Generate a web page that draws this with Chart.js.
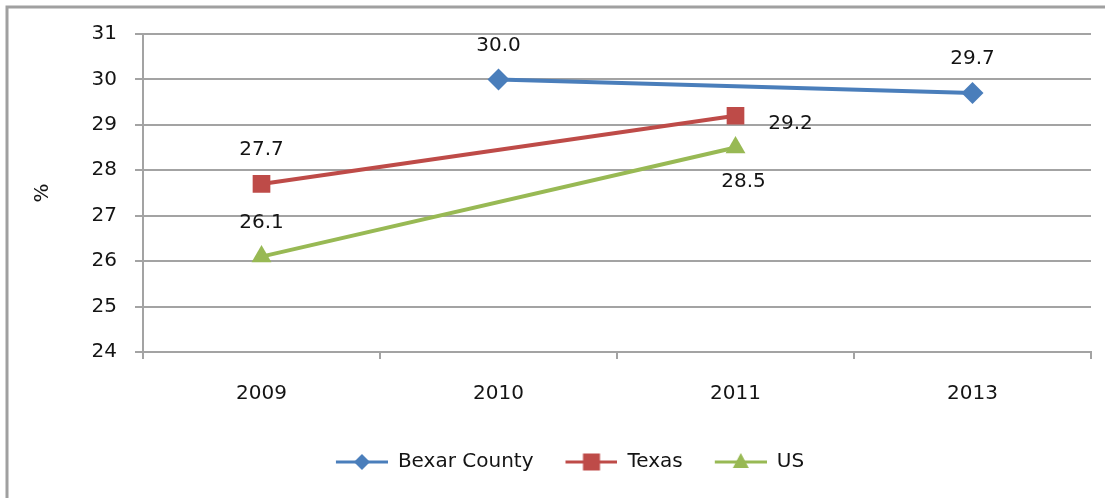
<!DOCTYPE html>
<html><head><meta charset="utf-8">
<script src="https://cdn.jsdelivr.net/npm/chart.js@4"></script>
<style>html,body{margin:0;padding:0;background:#fff;overflow:hidden;}</style>
</head><body>
<canvas id="c" width="1105" height="498" style="width:1105px;height:498px;display:block"></canvas>
<script>
const categories = ['2009', '2010', '2011', '2013'];
const bexarCounty = [null, 30.0, null, 29.7];
const texas = [27.7, null, 29.2, null];
const us = [26.1, null, 28.5, null];
const yTicks = [24, 25, 26, 27, 28, 29, 30, 31];
const seriesNames = ['Bexar County', 'Texas', 'US'];

const FONT = '"DejaVu Sans", Verdana, sans-serif';
const TEXT = '#141414';
const GRID = '#a3a3a3';
const colors = ['#4a7ebb', '#be4b48', '#98b954'];

// where each value label sits relative to its point
const placementOffsets = { above: [0, -34], right: [55, 8], below: [8, 34] };

function legendIcon(style, color) {
  const c = document.createElement('canvas');
  c.width = 74; c.height = 20;
  const g = c.getContext('2d');
  g.strokeStyle = color; g.fillStyle = color; g.lineWidth = 3;
  g.beginPath(); g.moveTo(22, 10); g.lineTo(74, 10); g.stroke();
  const cx = 48, cy = 10;
  g.beginPath();
  if (style === 'rectRot') {
    g.moveTo(cx, cy - 8); g.lineTo(cx + 8, cy); g.lineTo(cx, cy + 8); g.lineTo(cx - 8, cy);
  } else if (style === 'rect') {
    g.rect(cx - 8.5, cy - 8.5, 17, 17);
  } else {
    g.moveTo(cx, cy - 9); g.lineTo(cx + 8, cy + 6); g.lineTo(cx - 8, cy + 6);
  }
  g.closePath(); g.fill();
  return c;
}

const frame = {
  id: 'frame',
  beforeDraw(chart) {
    const ctx = chart.ctx;
    ctx.save();
    ctx.fillStyle = '#fff';
    ctx.fillRect(0, 0, chart.width, chart.height);
    ctx.strokeStyle = '#a0a0a0';
    ctx.lineWidth = 3;
    ctx.beginPath();
    ctx.moveTo(7, chart.height);
    ctx.lineTo(7, 7);
    ctx.lineTo(chart.width, 7);
    ctx.stroke();
    ctx.restore();
  }
};

const valueLabels = {
  id: 'valueLabels',
  afterDatasetsDraw(chart) {
    const ctx = chart.ctx;
    ctx.save();
    ctx.font = '20px ' + FONT;
    ctx.fillStyle = TEXT;
    ctx.textAlign = 'center';
    ctx.textBaseline = 'middle';
    chart.data.datasets.forEach((ds, di) => {
      const meta = chart.getDatasetMeta(di);
      ds.data.forEach((v, i) => {
        if (v == null) return;
        const pt = meta.data[i];
        const off = placementOffsets[ds.labelPlacement[i]];
        ctx.fillText(v.toFixed(1), pt.x + off[0], pt.y + off[1]);
      });
    });
    ctx.restore();
  }
};

const styles = ['rectRot', 'rect', 'triangle'];
const radii = [11, 12.5, 11.5];
const seriesData = [bexarCounty, texas, us];
const placements = [
  [null, 'above', null, 'above'],
  ['above', null, 'right', null],
  ['above', null, 'below', null]
];

new Chart(document.getElementById('c'), {
  type: 'line',
  data: {
    labels: categories,
    datasets: seriesNames.map((name, k) => ({
      label: name,
      data: seriesData[k],
      labelPlacement: placements[k],
      borderColor: colors[k],
      backgroundColor: colors[k],
      borderWidth: 4,
      pointStyle: styles[k],
      pointRadius: radii[k],
      pointBackgroundColor: colors[k],
      pointBorderColor: colors[k],
      pointBorderWidth: 0,
      spanGaps: true,
      tension: 0,
      fill: false
    }))
  },
  options: {
    responsive: false,
    animation: false,
    devicePixelRatio: 1,
    events: [],
    layout: { padding: { left: 27, right: 14, top: 34, bottom: 16 } },
    scales: {
      x: {
        offset: true,
        grid: { offset: true, drawOnChartArea: false, drawTicks: true, tickLength: 7, color: GRID, lineWidth: 2 },
        border: { display: true, color: GRID, width: 2 },
        ticks: { font: { family: FONT, size: 20 }, color: TEXT, padding: 23 },
        afterFit(s) { s.height = 90; }
      },
      y: {
        min: 24, max: 31,
        afterBuildTicks(s) { s.ticks = yTicks.map(v => ({ value: v })); },
        grid: { color: GRID, lineWidth: 2, tickLength: 8, drawTicks: true },
        border: { display: true, color: GRID, width: 2 },
        ticks: { font: { family: FONT, size: 20 }, color: TEXT, padding: 18 },
        title: { display: true, text: '%', font: { family: FONT, size: 20 }, color: TEXT, padding: 4 },
        afterFit(s) { s.width = 116; }
      }
    },
    plugins: {
      tooltip: { enabled: false },
      legend: {
        position: 'bottom',
        labels: {
          usePointStyle: true,
          pointStyleWidth: 74,
          padding: 10,
          color: TEXT,
          font: { family: FONT, size: 20 },
          generateLabels(chart) {
            const items = Chart.defaults.plugins.legend.labels.generateLabels(chart);
            items.forEach((it, k) => { it.pointStyle = legendIcon(styles[k], colors[k]); });
            return items;
          }
        }
      }
    }
  },
  plugins: [frame, valueLabels]
});
</script>
</body></html>
